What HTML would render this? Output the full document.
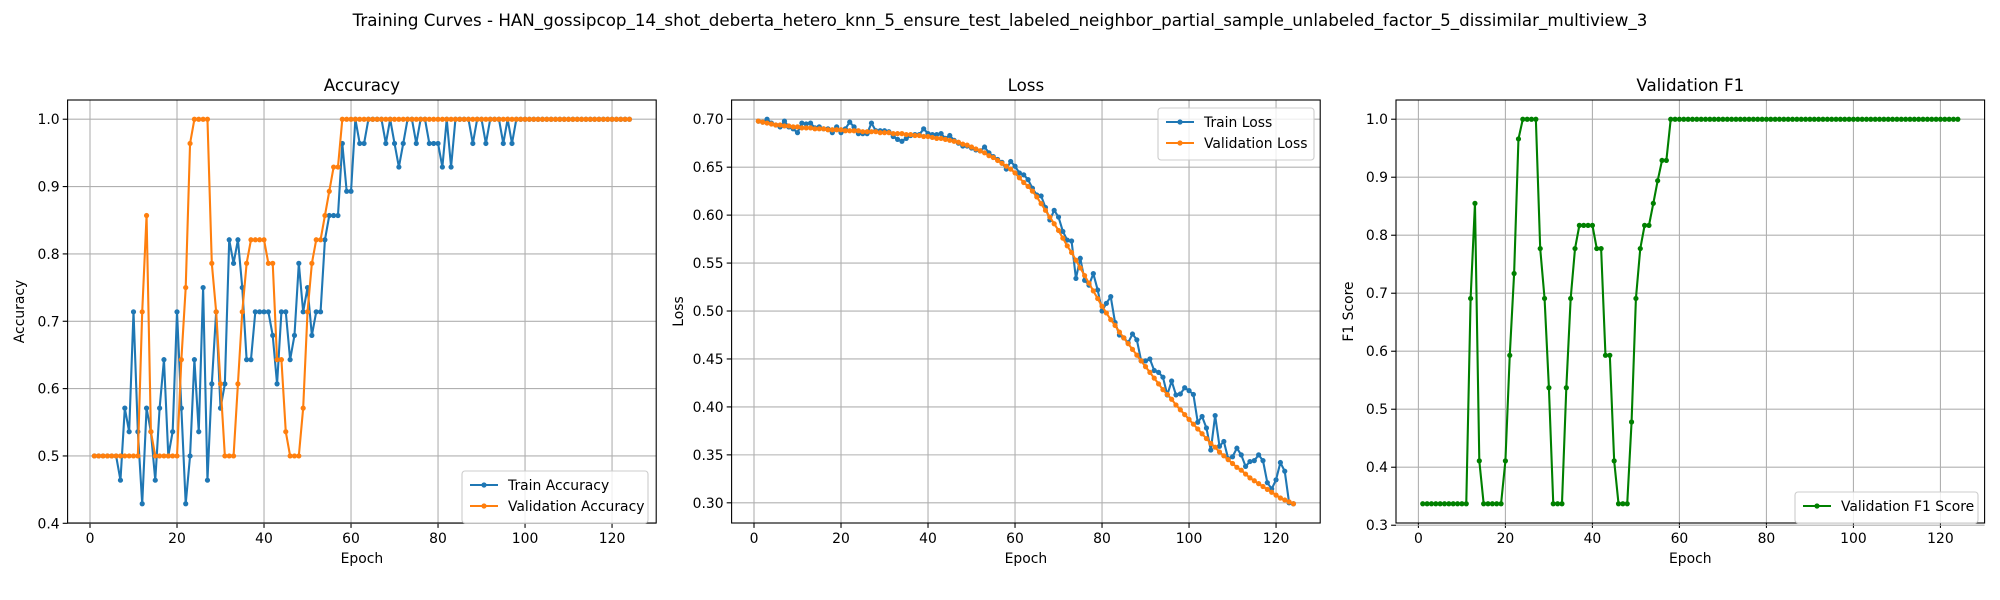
<!DOCTYPE html>
<html><head><meta charset="utf-8"><style>
html,body{margin:0;padding:0;background:#fff;}
svg{display:block;font-family:"DejaVu Sans","Liberation Sans",sans-serif;}
</style></head><body>
<svg id="fig" width="2000" height="600" viewBox="0 0 2000 600" xmlns="http://www.w3.org/2000/svg">
<rect width="2000" height="600" fill="#fff"/>
<text x="1000" y="26" text-anchor="middle" font-size="16.7">Training Curves - HAN_gossipcop_14_shot_deberta_hetero_knn_5_ensure_test_labeled_neighbor_partial_sample_unlabeled_factor_5_dissimilar_multiview_3</text>
</svg>
<script>
const trainAcc = [0.5,0.5,0.5,0.5,0.5,0.5,0.464,0.571,0.536,0.714,
0.536,0.429,0.571,0.536,0.464,0.571,0.643,0.5,0.536,0.714,
0.571,0.429,0.5,0.643,0.536,0.75,0.464,0.607,0.714,0.571,
0.607,0.821,0.786,0.821,0.75,0.643,0.643,0.714,0.714,0.714,
0.714,0.679,0.607,0.714,0.714,0.643,0.679,0.786,0.714,0.75,
0.679,0.714,0.714,0.821,0.857,0.857,0.857,0.964,0.893,0.893,
1,0.964,0.964,1,1,1,1,0.964,1,0.964,
0.929,0.964,1,1,0.964,1,1,0.964,0.964,0.964,
0.929,1,0.929,1,1,1,1,0.964,1,1,
0.964,1,1,1,0.964,1,0.964,1,1,1,
1,1,1,1,1,1,1,1,1,1,
1,1,1,1,1,1,1,1,1,1,
1,1,1,1];
const valAcc = [0.5,0.5,0.5,0.5,0.5,0.5,0.5,0.5,0.5,0.5,
0.5,0.714,0.857,0.536,0.5,0.5,0.5,0.5,0.5,0.5,
0.643,0.75,0.964,1,1,1,1,0.786,0.714,0.607,
0.5,0.5,0.5,0.607,0.714,0.786,0.821,0.821,0.821,0.821,
0.786,0.786,0.643,0.643,0.536,0.5,0.5,0.5,0.571,0.714,
0.786,0.821,0.821,0.857,0.893,0.929,0.929,1,1,1,
1,1,1,1,1,1,1,1,1,1,
1,1,1,1,1,1,1,1,1,1,
1,1,1,1,1,1,1,1,1,1,
1,1,1,1,1,1,1,1,1,1,
1,1,1,1,1,1,1,1,1,1,
1,1,1,1,1,1,1,1,1,1,
1,1,1,1];
const trainLoss = [.698,.697,.700,.696,.694,.692,.698,.692,.690,.686,
.696,.695,.696,.691,.692,.690,.690,.686,.692,.686,
.690,.697,.692,.685,.685,.685,.696,.688,.688,.688,
.687,.682,.679,.677,.680,.683,.684,.684,.690,.685,
.684,.684,.685,.680,.683,.678,.675,.672,.672,.670,
.668,.667,.671,.665,.661,.658,.655,
.648,.656,.651,.644,.642,.637,.628,.621,.620,.608,
.595,.605,.598,.583,.574,.573,.534,.555,.532,.527,
.539,.522,.500,.508,.515,.488,.475,.472,.467,.476,
.470,.448,.448,.450,.438,.436,.431,.4125,.427,.4125,
.4135,.420,.417,.413,.384,.390,.378,.355,.391,.359,
.364,.346,.348,.357,.350,.338,.343,.344,.350,.344,
.321,.3145,.324,.342,.333,.300,.299];
const valLoss = [.698,.697,.696,.695,.694,.694,.693,.693,.692,.692,
.691,.691,.691,.690,.690,.690,.689,.689,.689,.689,
.688,.688,.688,.688,.687,.687,.687,.687,.686,.686,
.686,.685,.685,.685,.684,.684,.683,.683,.682,.682,
.681,.680,.680,.679,.678,.677,.676,.674,.673,.671,
.669,.667,.665,.662,.660,.657,.654,.651,.648,.644,
.639,.634,.630,.625,.619,.612,.605,.598,.591,.584,
.576,.568,.561,.553,.545,.537,.529,.521,.513,.505,
.498,.491,.485,.478,.472,.466,.460,.454,.448,.442,
.436,.430,.424,.418,.413,.408,.402,.397,.392,.387,
.382,.377,.372,.367,.362,.358,.353,.349,.345,.341,
.337,.334,.330,.326,.323,.320,.317,.314,.311,.308,
.305,.303,.301,.299];
const valF1 = [0.337,0.337,0.337,0.337,0.337,0.337,0.337,0.337,0.337,0.337,
0.337,0.691,0.855,0.411,0.337,0.337,0.337,0.337,0.337,0.411,
0.593,0.734,0.966,1,1,1,1,0.777,0.691,0.537,
0.337,0.337,0.337,0.537,0.691,0.777,0.817,0.817,0.817,0.817,
0.777,0.777,0.593,0.593,0.411,0.337,0.337,0.337,0.478,0.691,
0.777,0.817,0.817,0.855,0.894,0.929,0.929,1,1,1,
1,1,1,1,1,1,1,1,1,1,
1,1,1,1,1,1,1,1,1,1,
1,1,1,1,1,1,1,1,1,1,
1,1,1,1,1,1,1,1,1,1,
1,1,1,1,1,1,1,1,1,1,
1,1,1,1,1,1,1,1,1,1,
1,1,1,1];
const xTicks = [0,20,40,60,80,100,120];
const accTicks = [0.4,0.5,0.6,0.7,0.8,0.9,1.0];
const lossTicks = [0.30,0.35,0.40,0.45,0.50,0.55,0.60,0.65,0.70];
const f1Ticks = [0.3,0.4,0.5,0.6,0.7,0.8,0.9,1.0];

const NS = "http://www.w3.org/2000/svg";
const svg = document.getElementById('fig');
function mk(tag, attrs, parent){
  const e = document.createElementNS(NS, tag);
  for (const k in attrs) e.setAttribute(k, attrs[k]);
  (parent||svg).appendChild(e);
  return e;
}
function extent(arrs){
  let lo=Infinity, hi=-Infinity;
  arrs.forEach(a=>a.forEach(v=>{lo=Math.min(lo,v);hi=Math.max(hi,v);}));
  const m=(hi-lo)*0.05; return [lo-m, hi+m];
}
function panel(p){
  const top=100, bot=523, L=p.left, R=p.left+588.6;
  const n = p.series[0].data.length;
  const xm=(n-1)*0.05, x0=1-xm, x1=n+xm;
  const [y0,y1]=extent(p.series.map(s=>s.data));
  const X=v=>L+(v-x0)/(x1-x0)*(R-L);
  const Y=v=>bot-(v-y0)/(y1-y0)*(bot-top);
  const g=mk('g',{});
  
  
  xTicks.forEach(t=>{
    const x=X(t);
    const gl=mk('line',{x1:x,x2:x,y1:top,y2:bot,stroke:'#b0b0b0','stroke-width':1.1},g);
    
    
    mk('line',{x1:x,x2:x,y1:bot,y2:bot+4.9,stroke:'#000','stroke-width':1.1},g);
    const tl=mk('text',{x:x,y:bot+20,'text-anchor':'middle','font-size':13.9},g);
    tl.textContent=t;
    
    
  });
  p.ticks.forEach(t=>{
    const y=Y(t);
    const gl=mk('line',{x1:L,x2:R,y1:y,y2:y,stroke:'#b0b0b0','stroke-width':1.1},g);
    
    
    mk('line',{x1:L-4.9,x2:L,y1:y,y2:y,stroke:'#000','stroke-width':1.1},g);
    const tl=mk('text',{x:L-8,y:y+5,'text-anchor':'end','font-size':13.9},g);
    tl.textContent=t.toFixed(p.dec);
    
    
  });
  p.series.forEach(s=>{
    const pts=s.data.map((v,i)=>X(i+1).toFixed(2)+','+Y(v).toFixed(2)).join(' ');
    const sg=mk('g',{},g);
    
    
    mk('polyline',{points:pts,fill:'none',stroke:s.color,'stroke-width':2.1,'stroke-linejoin':'round'},sg);
    s.data.forEach((v,i)=>{
      const c=mk('circle',{cx:X(i+1),cy:Y(v),r:2.6,fill:s.color},sg);
      
      
    });
  });
  const fr=mk('rect',{x:L,y:top,width:R-L,height:bot-top,fill:'none',stroke:'#000','stroke-width':1.1},g);
  
  
  const ti=mk('text',{x:(L+R)/2,y:top-9,'text-anchor':'middle','font-size':16.7},g);
  ti.textContent=p.title;
  
  
  const xl=mk('text',{x:(L+R)/2,y:563,'text-anchor':'middle','font-size':13.9},g);
  xl.textContent='Epoch';
  
  
  const yl=mk('text',{x:0,y:0,'text-anchor':'middle','font-size':13.9,transform:`translate(${p.ylx},${(top+bot)/2}) rotate(-90)`},g);
  yl.textContent=p.ylabel;
  
  
  // legend
  const lg=p.legend;
  const lgg=mk('g',{},g);
  
  
  mk('rect',{x:lg.x,y:lg.y,width:lg.w,height:10+p.series.length*21,rx:3,fill:'#fff','fill-opacity':0.8,stroke:'#ccc','stroke-width':1.1},lgg);
  p.series.forEach((s,i)=>{
    const cy=lg.y+14+i*21;
    const e=mk('g',{},lgg);
    
    
    mk('line',{x1:lg.x+8,x2:lg.x+36,y1:cy,y2:cy,stroke:s.color,'stroke-width':2.1},e);
    mk('circle',{cx:lg.x+22,cy:cy,r:2.6,fill:s.color},e);
    const t=mk('text',{x:lg.x+46,y:cy+5,'font-size':13.9},e);
    t.textContent=s.label;
  });
}
panel({name:'accuracy',left:67.6,title:'Accuracy',ylabel:'Accuracy',ylx:24,ticks:accTicks,dec:1,
  series:[{key:'train-accuracy',data:trainAcc,color:'#1f77b4',label:'Train Accuracy'},
          {key:'validation-accuracy',data:valAcc,color:'#ff7f0e',label:'Validation Accuracy'}],
  legend:{x:462,y:471,w:186}});
panel({name:'loss',left:731.6,title:'Loss',ylabel:'Loss',ylx:683,ticks:lossTicks,dec:2,
  series:[{key:'train-loss',data:trainLoss,color:'#1f77b4',label:'Train Loss'},
          {key:'validation-loss',data:valLoss,color:'#ff7f0e',label:'Validation Loss'}],
  legend:{x:1158,y:108,w:156}});
panel({name:'validation-f1',left:1396,title:'Validation F1',ylabel:'F1 Score',ylx:1353,ticks:f1Ticks,dec:1,
  series:[{key:'validation-f1',data:valF1,color:'#008000',label:'Validation F1 Score'}],
  legend:{x:1795,y:492,w:183}});
</script>
</body></html>
